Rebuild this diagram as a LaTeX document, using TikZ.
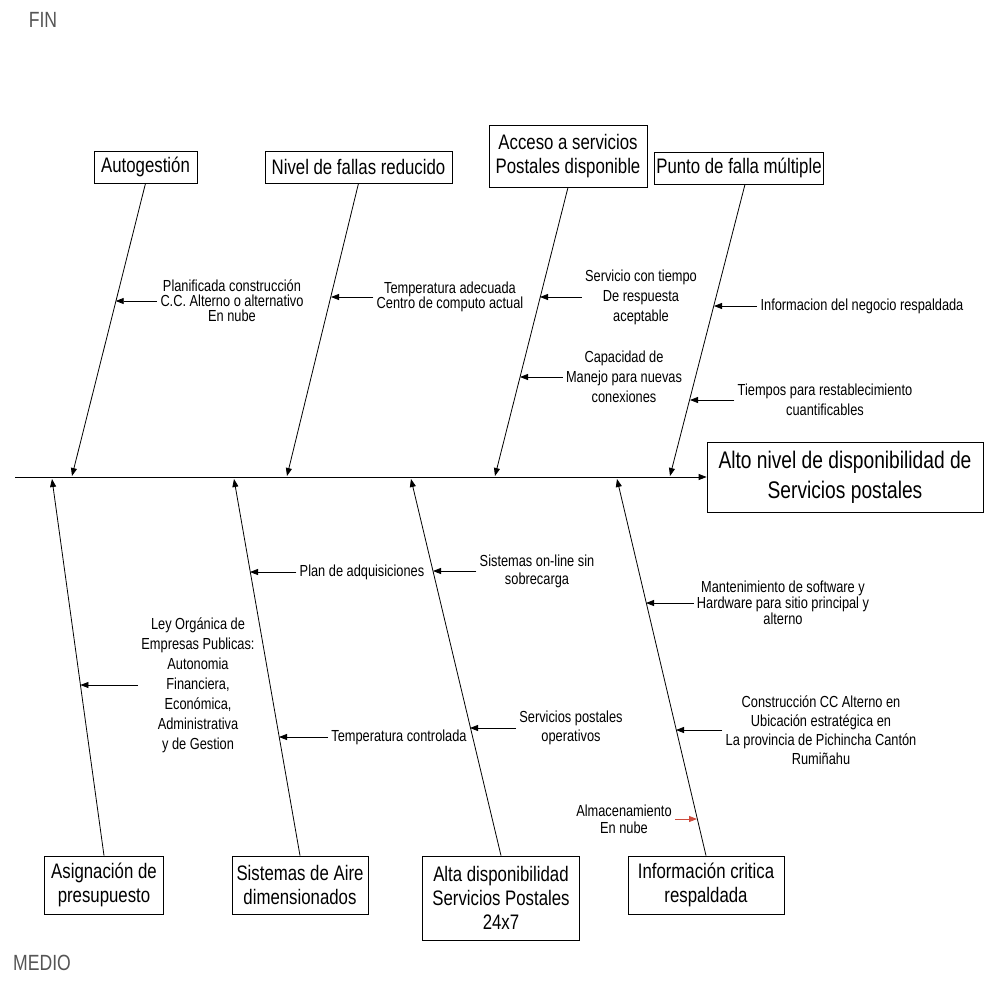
\documentclass[tikz,border=0pt]{standalone}
\usepackage{fontspec}
\newfontfamily\narrowsf[FakeStretch=0.8]{Liberation Sans}
\usetikzlibrary{arrows,arrows.meta,positioning,calc}
\definecolor{capgray}{RGB}{85,85,85}
\definecolor{almred}{RGB}{205,75,60}
\newcommand{\lblfont}[1]{\narrowsf\fontsize{16}{#1}\selectfont}

\begin{document}
\begin{tikzpicture}[x=1pt,y=-1pt,>={Triangle[length=8pt,width=6pt]},line width=0.8pt]
  \tikzstyle{cause}=[draw,align=center,inner sep=2pt,font=\narrowsf\fontsize{21}{24}\selectfont]
  \tikzstyle{lbl}=[align=center,inner sep=3pt]
  \useasboundingbox (0,0) rectangle (985,994);
  \node[text=capgray,font=\narrowsf\fontsize{22}{26}\selectfont] (fin) at (43,20) {FIN};
  \node[text=capgray,font=\narrowsf\fontsize{22}{26}\selectfont] (medio) at (42,963) {MEDIO};
  % efecto y espina
  \node[draw,align=center,font=\narrowsf\fontsize{24}{30}\selectfont,minimum width=276,minimum height=70] (ef) at (845,477) {Alto nivel de disponibilidad de\\Servicios postales};
  \coordinate (s0) at (15,477);
  \draw[->] (s0) -- (ef.west);
  % causas de arriba
  \node[cause,minimum width=103,minimum height=32] (au) at (145.5,167) {Autogestión};
  \node[cause,minimum width=187,minimum height=32] (nf) at (358.5,167) {Nivel de fallas reducido};
  \node[cause,minimum width=158,minimum height=62] (ac) at (568,156) {Acceso a servicios\\Postales disponible};
  \node[cause,minimum width=168,minimum height=32] (pu) at (739,168) {Punto de falla múltiple};
  \coordinate (t1) at (72,476);  \coordinate (t2) at (287,476);
  \coordinate (t3) at (495,476); \coordinate (t4) at (670,476);
  \draw[->] (au.south) -- (t1);
  \draw[->] (nf.south) -- (t2);
  \draw[->] (ac.south) -- (t3);
  \draw[->] ([xshift=6pt]pu.south) -- (t4);
  % causas de abajo
  \node[cause,minimum width=119,minimum height=58] (as) at (104,885) {Asignación de\\presupuesto};
  \node[cause,minimum width=136,minimum height=58] (sa) at (300,885) {Sistemas de Aire\\dimensionados};
  \node[cause,minimum width=157,minimum height=84] (ad) at (501,898) {Alta disponibilidad\\Servicios Postales\\24x7};
  \node[cause,minimum width=156,minimum height=58] (ic) at (706,885) {Información critica\\respaldada};
  \coordinate (b1) at (52,479);  \coordinate (b2) at (234,479);
  \coordinate (b3) at (411,479); \coordinate (b4) at (617,479);
  \draw[->] (as.north) -- (b1);
  \draw[->] (sa.north) -- (b2);
  \draw[->] (ad.north) -- (b3);
  \draw[->] (ic.north) -- (b4);
  % subcausas arriba
  \node[lbl,font=\lblfont{15}] (pl) at (232,301) {Planificada construcción\\C.C. Alterno o alternativo\\En nube};
  \node[lbl,font=\lblfont{15}] (ta) at (450,297) {Temperatura adecuada\\Centro de computo actual};
  \node[lbl,font=\lblfont{20}] (sc) at (641,297) {Servicio con tiempo\\De respuesta\\aceptable};
  \node[lbl,font=\lblfont{20}] (cm) at (624,377) {Capacidad de\\Manejo para nuevas\\conexiones};
  \node[lbl,font=\lblfont{20}] (ib) at (862,306) {Informacion del negocio respaldada};
  \node[lbl,font=\lblfont{20}] (tr) at (825,400) {Tiempos para restablecimiento\\cuantificables};
  \coordinate (e1) at (115.7,301); \coordinate (e2) at (331,297);
  \coordinate (e3) at (540,297);   \coordinate (e4) at (520,377);
  \coordinate (e5) at (714,306);   \coordinate (e6) at (690,400);
  \draw[->] (pl.west) -- (e1);
  \draw[->] (ta.west) -- (e2);
  \draw[->] (sc.west) -- (e3);
  \draw[->] (cm.west) -- (e4);
  \draw[->] (ib.west) -- (e5);
  \draw[->] (tr.west) -- (e6);
  % subcausas abajo
  \node[lbl,font=\lblfont{20}] (pa) at (362,572) {Plan de adquisiciones};
  \node[lbl,font=\lblfont{18}] (so) at (537,571) {Sistemas on-line sin\\sobrecarga};
  \node[lbl,font=\lblfont{16}] (ms) at (783,603) {Mantenimiento de software y\\Hardware para sitio principal y\\alterno};
  \node[lbl,font=\lblfont{20}] (ley) at (198,685) {Ley Orgánica de\\Empresas Publicas:\\Autonomia\\Financiera,\\Económica,\\Administrativa\\y de Gestion};
  \node[lbl,font=\lblfont{20}] (tc) at (399,737) {Temperatura controlada};
  \node[lbl,font=\lblfont{19}] (sp) at (571,728) {Servicios postales\\operativos};
  \node[lbl,font=\lblfont{19}] (cc) at (821,730) {Construcción CC Alterno en\\Ubicación estratégica en\\La provincia de Pichincha Cantón\\Rumiñahu};
  \node[lbl,font=\lblfont{17}] (al) at (624,819) {Almacenamiento\\En nube};
  \coordinate (f1) at (250,572);  \coordinate (f2) at (433,571);
  \coordinate (f3) at (646,603);  \coordinate (f4) at (80.4,685);
  \coordinate (f5) at (279,737);  \coordinate (f6) at (470,728);
  \coordinate (f7) at (676,730);  \coordinate (f8) at (697,819);
  \draw[->] (pa.west) -- (f1);
  \draw[->] (so.west) -- (f2);
  \draw[->] (ms.west) -- (f3);
  \draw[->] (ley.west) -- (f4);
  \draw[->] (tc.west) -- (f5);
  \draw[->] (sp.west) -- (f6);
  \draw[->] (cc.west) -- (f7);
  \draw[->,almred] (al.east) -- (f8);
\end{tikzpicture}
\end{document}
